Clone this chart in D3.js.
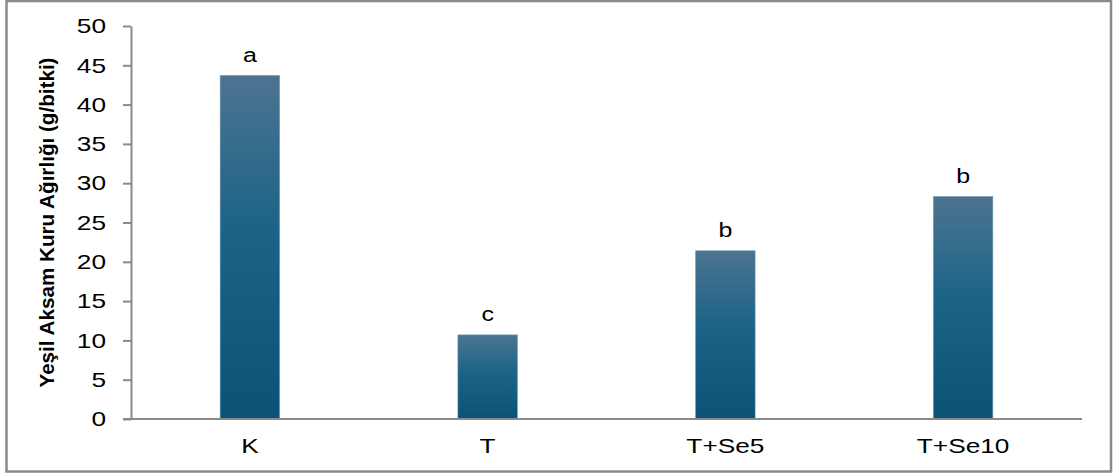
<!DOCTYPE html>
<html>
<head>
<meta charset="utf-8">
<script src="https://cdn.jsdelivr.net/npm/d3@7"></script>
<style>
  html, body { margin: 0; padding: 0; background: #fff; }
  svg { display: block; }
  text { font-family: "Liberation Sans", Arial, sans-serif; fill: #000; }
</style>
</head>
<body>
<svg id="chart" width="1115" height="474"></svg>
<script>
const categories = ["K", "T", "T+Se5", "T+Se10"];
const values = [43.7, 10.7, 21.4, 28.3];
const letters = ["a", "c", "b", "b"];
const yTicks = [0, 5, 10, 15, 20, 25, 30, 35, 40, 45, 50];
const yTitle = "Yeşil Aksam Kuru Ağırlığı (g/bitki)";

(function () {
const svg = d3.select("#chart");
const W = 1115, H = 474;
const mLeft = 131, mRight = 1082, mTop = 26, mBottom = 419;
const stretch = 1.25;
const fs = 21;

svg.append("rect").attr("width", W).attr("height", H).attr("fill", "#fff");

// frame
svg.append("rect")
  .attr("x", 6.5).attr("y", 1).attr("width", 1104.5).attr("height", 470.5)
  .attr("fill", "none").attr("stroke", "#8a8a8a").attr("stroke-width", 2.5);

const defs = svg.append("defs");
const grad = defs.append("linearGradient").attr("id", "barGrad")
  .attr("x1", 0).attr("y1", 0).attr("x2", 0).attr("y2", 1);
grad.append("stop").attr("offset", "0%").attr("stop-color", "#4c7491");
grad.append("stop").attr("offset", "45%").attr("stop-color", "#1b6387");
grad.append("stop").attr("offset", "100%").attr("stop-color", "#0a5377");

const x = d3.scaleBand().domain(categories).range([mLeft, mRight]).paddingInner(0).paddingOuter(0);
const y = d3.scaleLinear().domain([0, 50]).range([mBottom, mTop]);
const bw = x.step() * 0.25;

// bars
svg.append("g").selectAll("rect").data(categories).join("rect")
  .attr("x", (d) => x(d) + x.bandwidth() / 2 - bw / 2)
  .attr("y", (d, i) => y(values[i]))
  .attr("width", bw)
  .attr("height", (d, i) => y(0) - y(values[i]))
  .attr("fill", "url(#barGrad)")
  .attr("stroke", "#6f95ad").attr("stroke-width", 0.6);

// letters
svg.append("g").selectAll("text").data(categories).join("text")
  .attr("class", "stretch")
  .attr("x", (d) => x(d) + x.bandwidth() / 2)
  .attr("y", (d, i) => y(values[i]) - 14)
  .attr("text-anchor", "middle")
  .attr("font-size", 20)
  .text((d, i) => letters[i]);

// y axis
const yAxis = d3.axisLeft(y).tickValues(yTicks).tickSize(8).tickPadding(17).tickSizeOuter(0);
const gy = svg.append("g").attr("transform", `translate(${mLeft},0)`).call(yAxis);
gy.select(".domain").attr("stroke", "#8a8a8a").attr("stroke-width", 2);
gy.selectAll(".tick line").attr("stroke", "#8a8a8a").attr("stroke-width", 2);
gy.selectAll(".tick text").attr("class", "stretch").attr("font-size", fs)
  .attr("font-family", "Liberation Sans, Arial, sans-serif").attr("fill", "#000");

// x axis
const xAxis = d3.axisBottom(x).tickSize(0).tickPadding(18).tickSizeOuter(0);
const gx = svg.append("g").attr("transform", `translate(0,${mBottom})`).call(xAxis);
gx.select(".domain").attr("stroke", "#8a8a8a").attr("stroke-width", 2)
  .attr("d", `M${mLeft - 8},0H${mRight}`);
gx.selectAll(".tick text").attr("class", "stretch").attr("font-size", fs)
  .attr("font-family", "Liberation Sans, Arial, sans-serif").attr("fill", "#000")
  .attr("dy", 0).attr("y", 34);

// y title
svg.append("text")
  .attr("transform", `translate(54,${(mTop + mBottom) / 2}) rotate(-90)`)
  .attr("text-anchor", "middle")
  .attr("font-size", 20).attr("font-weight", "bold")
  .attr("textLength", 330).attr("lengthAdjust", "spacingAndGlyphs")
  .text(yTitle);

// horizontal stretch of regular labels
svg.selectAll("text.stretch").each(function () {
  const len = this.getComputedTextLength();
  d3.select(this).attr("textLength", len * stretch).attr("lengthAdjust", "spacingAndGlyphs");
});
})();
</script>
</body>
</html>
